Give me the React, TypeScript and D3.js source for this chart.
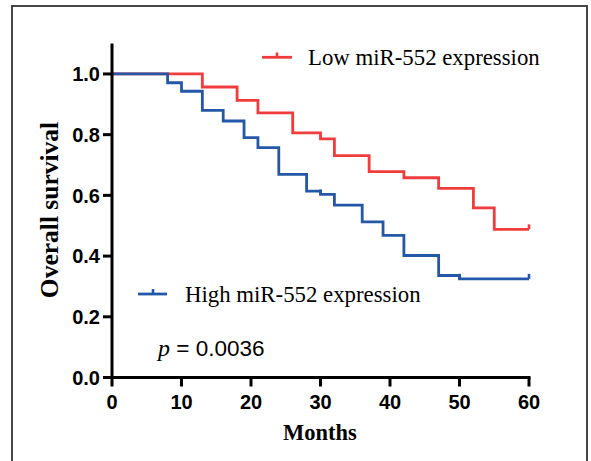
import React from 'react'
import * as d3 from 'd3'

// survival steps (months / fraction surviving)
const lowTimes = [0, 13, 18, 21, 26, 30, 32, 37, 42, 47, 52, 55, 60]
const lowSurv = [1.0, 0.957, 0.913, 0.872, 0.806, 0.786, 0.731, 0.678, 0.658, 0.623, 0.559, 0.488, 0.488]
const lowCensored = [60]

const highTimes = [0, 8, 10, 13, 16, 19, 21, 24, 28, 30, 32, 36, 39, 42, 47, 50, 60]
const highSurv = [1.0, 0.971, 0.943, 0.88, 0.845, 0.79, 0.757, 0.669, 0.614, 0.603, 0.568, 0.513, 0.468, 0.402, 0.336, 0.325, 0.325]
const highCensored = [30, 50, 60]

const xTicks = [0, 10, 20, 30, 40, 50, 60]
const yTicks = [0, 0.2, 0.4, 0.6, 0.8, 1.0]

const RED = '#f03c3c'
const BLUE = '#2457a8'
const SANS = '"Liberation Sans", Arial, sans-serif'
const SERIF = '"Liberation Serif", "Times New Roman", serif'

export default function App () {
  const width = 591
  const height = 461

  const x = d3.scaleLinear().domain([0, 60]).range([112, 529])
  const y = d3.scaleLinear().domain([0, 1.1]).range([377.5, 43.6])

  const step = d3.line<[number, number]>()
    .x(d => x(d[0]))
    .y(d => y(d[1]))
    .curve(d3.curveStepAfter)

  const lowPts = lowTimes.map((t, i) => [t, lowSurv[i]] as [number, number])
  const highPts = highTimes.map((t, i) => [t, highSurv[i]] as [number, number])

  // value of a step curve at time t (last step at or before t)
  const survAt = (times: number[], surv: number[], t: number) => {
    let v = surv[0]
    times.forEach((tt, i) => { if (tt <= t) v = surv[i] })
    return v
  }

  const censorMarks = (times: number[], surv: number[], cens: number[], color: string) =>
    cens.map(t => {
      const v = survAt(times, surv, t)
      return (
        <line key={`${color}-${t}`} x1={x(t)} x2={x(t)} y1={y(v)} y2={y(v) - 5}
          stroke={color} strokeWidth={2.6} />
      )
    })

  return (
    <div style={{ position: 'fixed', left: 0, top: 0 }}>
      <svg width={width} height={height} style={{ display: 'block', background: '#fff' }}>
        {/* outer frame */}
        <rect x={12} y={6} width={575} height={470} fill="none" stroke="#333" strokeWidth={1.8} />

        {/* curves */}
        <path d={step(lowPts) || ''} fill="none" stroke={RED} strokeWidth={2.8} />
        {censorMarks(lowTimes, lowSurv, lowCensored, RED)}
        <path d={step(highPts) || ''} fill="none" stroke={BLUE} strokeWidth={2.8} />
        {censorMarks(highTimes, highSurv, highCensored, BLUE)}

        {/* y axis */}
        <line x1={x(0)} x2={x(0)} y1={y(1.1)} y2={y(0) + 1.5} stroke="#000" strokeWidth={3} />
        {yTicks.map(t => (
          <g key={t}>
            <line x1={x(0) - 9} x2={x(0)} y1={y(t)} y2={y(t)} stroke="#000" strokeWidth={3} />
            <text x={x(0) - 12} y={y(t)} dy="0.36em" textAnchor="end"
              fontFamily={SANS} fontWeight="bold" fontSize={20}>{t.toFixed(1)}</text>
          </g>
        ))}

        {/* x axis */}
        <line x1={x(0) - 1.5} x2={x(60) + 1.5} y1={y(0)} y2={y(0)} stroke="#000" strokeWidth={3} />
        {xTicks.map(t => (
          <g key={t}>
            <line x1={x(t)} x2={x(t)} y1={y(0)} y2={y(0) + 9} stroke="#000" strokeWidth={3} />
            <text x={x(t)} y={409} textAnchor="middle"
              fontFamily={SANS} fontWeight="bold" fontSize={20}>{t}</text>
          </g>
        ))}

        {/* axis titles */}
        <text x={320} y={440} textAnchor="middle" fontFamily={SERIF} fontWeight="bold" fontSize={22.5}>Months</text>
        <text transform="translate(58,210) rotate(-90)" textAnchor="middle"
          fontFamily={SERIF} fontWeight="bold" fontSize={25.5}>Overall survival</text>

        {/* legend */}
        <line x1={262} x2={292} y1={57.3} y2={57.3} stroke={RED} strokeWidth={2.8} />
        <line x1={277} x2={277} y1={57.3} y2={52.5} stroke={RED} strokeWidth={2.6} />
        <text x={308} y={65} fontFamily={SERIF} fontSize={22.8}>Low miR-552 expression</text>

        <line x1={138} x2={167} y1={294} y2={294} stroke={BLUE} strokeWidth={2.8} />
        <line x1={153} x2={153} y1={294} y2={289} stroke={BLUE} strokeWidth={2.6} />
        <text x={185} y={302} fontFamily={SERIF} fontSize={22.8}>High miR-552 expression</text>

        {/* p value */}
        <text x={158} y={356} fontSize={22.5}>
          <tspan fontFamily={SERIF} fontStyle="italic" fontSize={24}>p</tspan>
          <tspan fontFamily={SANS}> = 0.0036</tspan>
        </text>
      </svg>
    </div>
  )
}
